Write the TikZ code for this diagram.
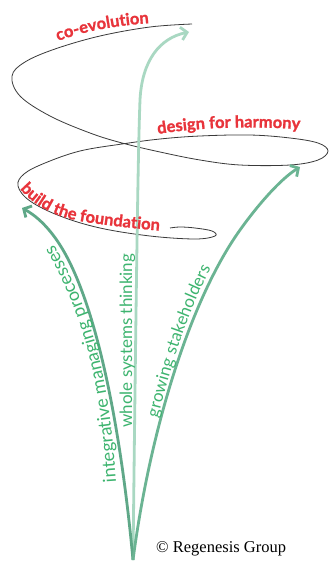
\documentclass[tikz,border=0pt]{standalone}
\usepackage{fontspec}
\setmainfont{Lato}
\newfontfamily\redfont{Lato}[BoldFeatures={FakeBold=1.2}]
\newfontfamily\copyfont{Liberation Serif}
\usetikzlibrary{arrows.meta,decorations.text}
\definecolor{labred}{HTML}{E8343B}
\definecolor{txtgreen}{HTML}{3DB46F}
\definecolor{arrowL}{HTML}{5FA888}
\definecolor{arrowM}{HTML}{A9D8C2}
\definecolor{arrowR}{HTML}{6BB493}
\definecolor{spiralcol}{HTML}{3A3A3A}
\tikzset{
  spiral/.style={draw=spiralcol, line width=0.8pt},
  growarrow/.style={line width=2.8pt, -{Straight Barb[length=6pt,width=13pt]}},
  redlabel/.style={decorate, decoration={text along path, text color=labred, text align=left}},
  greenlabel/.style={decorate, decoration={text along path, text color=txtgreen, text align=left}},
}
\begin{document}
\begin{tikzpicture}[x=1pt,y=-1pt]
\useasboundingbox (0,0) rectangle (329,562);
\fill[white] (0,0) rectangle (329,562);

% spiral
\draw[spiral] plot[smooth, tension=0.6] coordinates {
 (192,24) (150,27) (100,36) (55,49) (25,62) (12,76) (20,96) (50,116) (90,133) (122,143)
 (160,152) (200,160) (240,165) (290,165) (318,160) (328,151) (318,143) (290,138) (250,135)
 (200,136) (160,139) (122,144) (80,151) (45,163) (24,174) (18,186) (30,201) (60,216)
 (100,228) (150,236) (195,239) (215,236) (212,231) (195,228) (180,227) (170,228)};

% growth arrows
\coordinate (root) at (133,560);
\coordinate (tipL) at (22,208);
\coordinate (tipM) at (189,32);
\coordinate (tipR) at (300,167);
\draw[growarrow, arrowM] (root) .. controls (136,300) and (138,150) .. (140,100)
  .. controls (142,60) and (160,38) .. (tipM);
\draw[growarrow, arrowL] (root) .. controls (120,420) and (95,300) .. (60,245)
  .. controls (48,226) and (35,215) .. (tipL);
\draw[growarrow, arrowR] (root) .. controls (150,430) and (190,300) .. (240,230)
  .. controls (260,202) and (282,178) .. (tipR);

% red labels
\path[redlabel, decoration={text={|\redfont\bfseries\fontsize{16.5}{18}\selectfont|co-evolution}}]
  (58,41) .. controls (85,31) and (115,25) .. (165,22) -- (200,20);
\path[redlabel, decoration={text={|\redfont\bfseries\fontsize{16.5}{18}\selectfont|design for harmony}}]
  (158,134) .. controls (200,127) and (260,125) .. (320,131) -- (340,133);
\path[redlabel, decoration={text={|\redfont\bfseries\fontsize{16.5}{18}\selectfont|build the foundation}}]
  (20,189) .. controls (38,210) and (62,219) .. (92,223) .. controls (120,227) and (150,230) .. (175,232) -- (200,234);

% green labels
\path[greenlabel, decoration={text={|\fontsize{18}{20}\selectfont|integrative managing processes}}]
  (116,482) .. controls (110,390) and (98,320) .. (50,238) -- (30,210);
\node[rotate=90, anchor=base west, inner sep=0pt, text=txtgreen, font=\fontsize{17}{19}\selectfont] (whole) at (132,428) {whole systems thinking};
\path[greenlabel, decoration={text={|\fontsize{17}{19}\selectfont|growing stakeholders}}]
  (158,418) .. controls (170,370) and (187,310) .. (218,255) -- (235,230);

% copyright
\node[font=\copyfont\fontsize{16.5}{18}\selectfont, anchor=base west, inner sep=0pt] (copy) at (156,552) {© Regenesis Group};
\end{tikzpicture}
\end{document}
